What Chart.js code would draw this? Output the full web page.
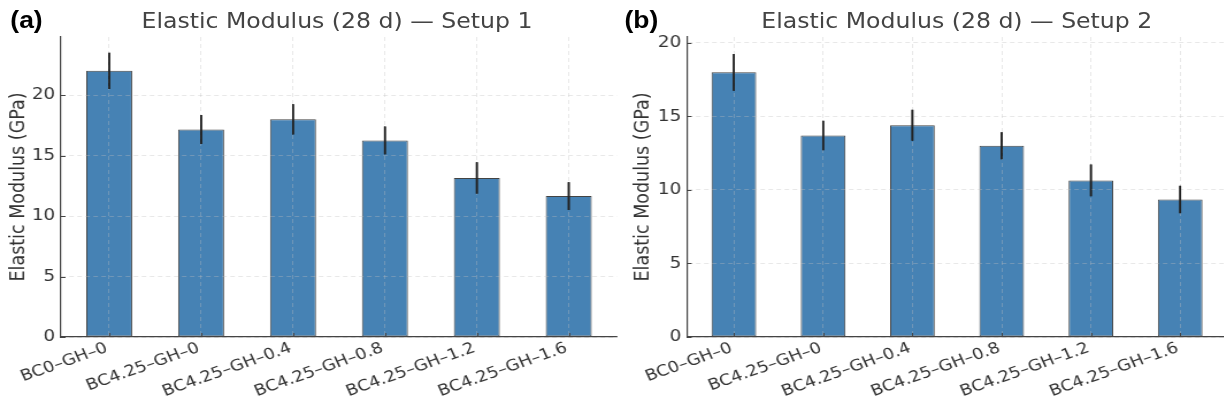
<!DOCTYPE html>
<html>
<head>
<meta charset="utf-8">
<script src="https://cdn.jsdelivr.net/npm/chart.js@4.4.1/dist/chart.umd.min.js"></script>
<style>
  html, body { margin: 0; padding: 0; background: #fff; overflow: hidden; }
  /* a figura é mais larga que alta: esticamos tudo na horizontal */
  #painel {
    position: relative; width: 1065px; height: 410px; overflow: hidden;
    transform: scaleX(1.15); transform-origin: 0 0;
  }
  canvas { position: absolute; top: 0; }
  #grafico-a { left: 0; }
  #grafico-b { left: 532px; }
  .titulo {
    position: absolute; top: 11px; width: 500px; margin-left: -250px;
    font-family: "DejaVu Sans"; font-size: 20.5px; color: #444;
    text-align: center; line-height: 1; white-space: nowrap;
  }
  .letra {
    position: absolute; top: 9px; font-family: "Liberation Sans Narrow", "Liberation Sans"; font-weight: bold;
    font-size: 23px; color: #000; line-height: 1;
  }
</style>
</head>
<body>
<div id="painel">
  <canvas id="grafico-a" width="540" height="410"></canvas>
  <canvas id="grafico-b" width="540" height="410"></canvas>
  <div class="titulo" style="left:293px;">Elastic Modulus (28 d) — Setup 1</div>
  <div class="titulo" style="left:832px;">Elastic Modulus (28 d) — Setup 2</div>
  <div class="letra" style="left:9px;">(a)</div>
  <div class="letra" style="left:543px;">(b)</div>
</div>
<script>
// Dados dos ensaios (módulo de elasticidade aos 28 dias, GPa)
const categorias = ["BC0–GH–0", "BC4.25–GH–0", "BC4.25–GH–0.4", "BC4.25–GH–0.8", "BC4.25–GH–1.2", "BC4.25–GH–1.6"];
const mediasSetup1 = [22.0, 17.15, 18.0, 16.25, 13.15, 11.65];
const desviosSetup1 = [1.5, 1.2, 1.25, 1.15, 1.3, 1.15];
const mediasSetup2 = [18.0, 13.7, 14.4, 13.0, 10.65, 9.35];
const desviosSetup2 = [1.25, 1.0, 1.05, 0.92, 1.08, 0.93];
const ticksY = [0, 5, 10, 15, 20];

Chart.defaults.font.family = "DejaVu Sans";
Chart.defaults.color = "#333";

const corGrade = "rgba(190, 190, 190, 0.45)";

// Ticks voltados para dentro + barras de erro redesenhadas por cima da grade
const acabamento = {
  id: "acabamento",
  afterDraw(chart) {
    const { ctx, chartArea, scales } = chart;
    chart.getDatasetMeta(0).controller.draw();

    ctx.save();
    ctx.strokeStyle = "#444";
    ctx.lineWidth = 1;
    ctx.beginPath();
    scales.x.ticks.forEach((t) => {
      const px = Math.round(scales.x.getPixelForValue(t.value)) + 0.5;
      ctx.moveTo(px, chartArea.bottom);
      ctx.lineTo(px, chartArea.bottom - 4);
    });
    scales.y.ticks.forEach((t) => {
      const py = Math.round(scales.y.getPixelForValue(t.value)) + 0.5;
      ctx.moveTo(chartArea.left, py);
      ctx.lineTo(chartArea.left + 4, py);
    });
    ctx.stroke();
    ctx.restore();
  },
};

// Função para criar cada painel
function criarGrafico(elementId, medias, desvios, cfg) {
  const ctx = document.getElementById(elementId).getContext("2d");
  new Chart(ctx, {
    type: "bar",
    data: {
      datasets: [
        {
          // barras de erro (média ± desvio)
          data: medias.map((m, i) => ({ x: i, y: [m - desvios[i], m + desvios[i]] })),
          backgroundColor: "#222",
          borderWidth: 0,
          maxBarThickness: 1.6,
          grouped: false,
          order: 0,
        },
        {
          data: medias.map((m, i) => ({ x: i, y: m })),
          backgroundColor: "#4682b4",
          borderColor: "rgba(20, 20, 20, 0.8)",
          borderWidth: 1,
          borderSkipped: false,
          barPercentage: 0.5,
          categoryPercentage: 1,
          grouped: false,
          order: 1,
        },
      ],
    },
    options: {
      responsive: false,
      animation: false,
      layout: { padding: { top: 37, right: cfg.padDireita, left: 0, bottom: 0 } },
      plugins: { legend: { display: false }, tooltip: { enabled: false } },
      scales: {
        x: {
          type: "linear",
          min: -0.525,
          max: categorias.length - 0.475,
          offset: false,
          afterBuildTicks: (s) => { s.ticks = categorias.map((_, i) => ({ value: i })); },
          afterFit: (s) => { s.height = 73; },
          ticks: {
            autoSkip: false,
            minRotation: 22,
            maxRotation: 22,
            padding: 2,
            labelOffset: -2,
            font: { size: 15.5 },
            callback: (v) => categorias[v],
          },
          grid: { z: 1, color: corGrade, lineWidth: 0.8, drawTicks: false, offset: false },
          border: { color: "#444", width: 1.2, dash: [4, 3], z: 2 },
        },
        y: {
          min: 0,
          max: cfg.yMax,
          afterBuildTicks: (s) => { s.ticks = ticksY.map((v) => ({ value: v })); },
          afterFit: (s) => { s.width = cfg.larguraEixo; },
          ticks: { padding: 5, font: { size: 16 } },
          title: {
            display: true,
            text: "Elastic Modulus (GPa)",
            font: { size: 17.5 },
            padding: { top: cfg.padTitulo, bottom: 0 },
          },
          grid: { z: 1, color: corGrade, lineWidth: 0.8, drawTicks: false },
          border: { color: "#444", width: 1.2, dash: [4, 3], z: 2 },
        },
      },
    },
    plugins: [acabamento],
  });
}

criarGrafico("grafico-a", mediasSetup1, desviosSetup1, { yMax: 24.8, larguraEixo: 53, padDireita: 3.5, padTitulo: 6 });
criarGrafico("grafico-b", mediasSetup2, desviosSetup2, { yMax: 20.4, larguraEixo: 65.4, padDireita: 5, padTitulo: 17 });
</script>
</body>
</html>
